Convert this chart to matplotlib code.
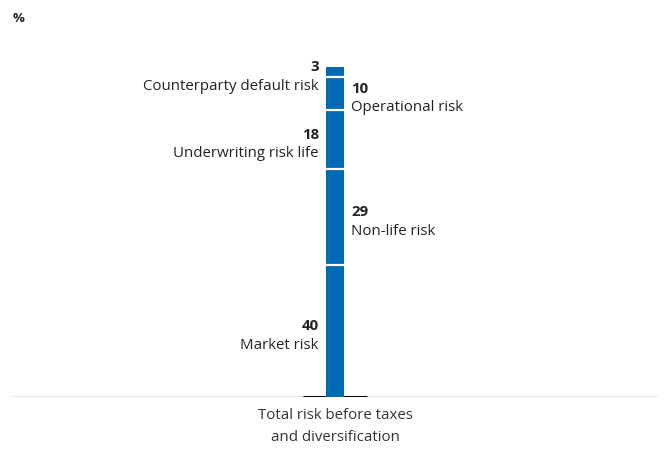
import matplotlib.pyplot as plt

# ── Data ──────────────────────────────────────────────────────────────────────
risk_names = ["Market risk", "Non-life risk", "Underwriting risk life",
              "Operational risk", "Counterparty default risk"]
risk_values = [40, 29, 18, 10, 3]
label_sides = ["left", "right", "left", "right", "left"]
category = "Total risk before taxes\nand diversification"

BAR_COLOR = "#0069b4"
TEXT_COLOR = "#222222"

plt.rcParams["font.family"] = ["Open Sans", "DejaVu Sans"]

fig = plt.figure(figsize=(6.64, 4.5), dpi=100)
ax = fig.add_axes([12 / 664, 1 - 397 / 450, 646 / 664, 357 / 450])

ax.set_xlim(-1, 1)
ax.set_ylim(0, 357 / 3.3)

# Baseline + short black tick under the bar
ax.axhline(0, color="#8a8a8a", linewidth=1, zorder=1)
ax.plot([-0.1, 0.1], [0, 0], color="black", linewidth=2.2, zorder=2,
        solid_capstyle="butt")

bar_w = 0.058
bottom = 0
for i, (name, val, side) in enumerate(zip(risk_names, risk_values, label_sides)):
    ax.bar(0, val, width=bar_w, bottom=bottom, color=BAR_COLOR,
           linewidth=0, zorder=3)
    if i > 0:
        # white gap between stacked segments
        ax.plot([-bar_w / 2 - 0.005, bar_w / 2 + 0.005], [bottom, bottom],
                color="white", linewidth=1.6, zorder=4, solid_capstyle="butt")
    mid = bottom + val / 2 - 2.0
    if side == "left":
        x, ha = -0.05, "right"
    else:
        x, ha = 0.05, "left"
    ax.text(x, mid + 1.3, str(val), ha=ha, va="bottom", fontsize=10.8,
            fontweight="bold", color=TEXT_COLOR)
    ax.text(x, mid, name, ha=ha, va="top", fontsize=10.8, color=TEXT_COLOR)
    bottom += val

for s in ax.spines.values():
    s.set_visible(False)
ax.set_xticks([])
ax.set_yticks([])

ax.text(0, -3.2, category, ha="center", va="top", fontsize=10.8,
        color="#333333", linespacing=1.7)

fig.text(13 / 664, 1 - 18 / 450, "%", ha="left", va="center", fontsize=9.5,
         fontweight="bold", color=TEXT_COLOR)

fig.savefig("out.png", dpi=100)
